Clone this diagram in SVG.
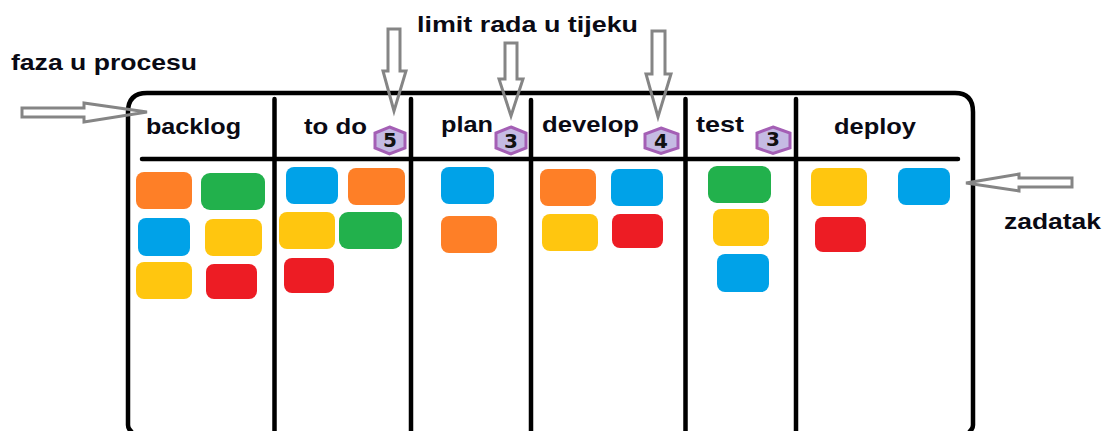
<svg xmlns="http://www.w3.org/2000/svg" width="1108" height="431" viewBox="0 0 1108 431">
<style>
.l{fill:none;stroke:#000;stroke-width:4.5;stroke-linecap:round}
.a{fill:#fff;fill-opacity:0;stroke:#858585;stroke-width:3;stroke-linejoin:miter}
.t{font-family:"Liberation Sans",Arial,sans-serif;font-weight:700;font-size:21.500px;fill:#0a0a14}
.h{fill:#c5bbe3;stroke:#a45fb5;stroke-width:3}
.n{font-family:"DejaVu Sans",sans-serif;font-weight:700;font-size:20px;fill:#111;text-anchor:middle}
.o{fill:#fe7f27}.g{fill:#22b14c}.b{fill:#00a2e8}.y{fill:#ffc60f}.r{fill:#ed1c24}
</style>
<rect width="1108" height="431" fill="#fff"/>
<g id="board">
<path class="l" d="M131 431Q128 429 128 425V112Q128 93 147 93H955Q973 93 973 112V425Q973 429 970 431"/>
<path class="l" d="M274.500 99V431M411 99V431M531 100V431M685.500 99V431M796 99V431M142 159H958"/>
</g>
<g id="connectors">
<path class="a" d="M22 108H84V103L147 112L84 122V117H22Z"/>
<path class="a" d="M388 29H400V71H406L394 111L383 71H388Z"/>
<path class="a" d="M505 43H517V79H523L511 116L499 79H505Z"/>
<path class="a" d="M652 31H665V74H671L658 117L646 74H652Z"/>
<path class="a" d="M1072 178H1019V174L966 183L1019 191V187H1072Z"/>
</g>
<g id="cards">
<rect class="o" x="136" y="172" width="56" height="37" rx="8"/><rect class="g" x="201" y="173" width="64" height="37" rx="9"/>
<rect class="b" x="138" y="218" width="52" height="38" rx="8"/><rect class="y" x="205" y="219" width="57" height="37" rx="8"/>
<rect class="y" x="136" y="262" width="56" height="37" rx="8"/><rect class="r" x="206" y="264" width="51" height="35" rx="8"/>
<rect class="b" x="286" y="167" width="52" height="37" rx="8"/><rect class="o" x="348" y="168" width="57" height="37" rx="8"/>
<rect class="y" x="279" y="212" width="56" height="37" rx="8"/><rect class="g" x="339" y="212" width="63" height="37" rx="9"/>
<rect class="r" x="284" y="258" width="50" height="35" rx="8"/>
<rect class="b" x="441" y="167" width="53" height="37" rx="8"/><rect class="o" x="441" y="216" width="56" height="37" rx="8"/>
<rect class="o" x="540" y="169" width="56" height="37" rx="8"/><rect class="b" x="611" y="169" width="52" height="37" rx="8"/>
<rect class="y" x="542" y="214" width="56" height="37" rx="8"/><rect class="r" x="612" y="214" width="51" height="34" rx="8"/>
<rect class="g" x="708" y="166" width="63" height="37" rx="9"/><rect class="y" x="713" y="209" width="56" height="37" rx="8"/>
<rect class="b" x="717" y="254" width="52" height="38" rx="8"/>
<rect class="y" x="811" y="168" width="56" height="38" rx="8"/><rect class="b" x="898" y="168" width="52" height="37" rx="8"/>
<rect class="r" x="815" y="217" width="51" height="35" rx="8"/>
</g>
<g id="limit-5"><polygon class="h" points="389.500,127 405,133 405,148 389.500,154 375,148 375,133"/><text class="n" x="390" y="147">5</text></g>
<g id="limit-3a"><polygon class="h" points="511,127 526,133 526,148 511,154 496,148 496,133"/><text class="n" x="511" y="148">3</text></g>
<g id="limit-4"><polygon class="h" points="661,128 678,134 678,148 661,153.500 645,148 645,134"/><text class="n" x="661" y="148">4</text></g>
<g id="limit-3b"><polygon class="h" points="773,127 790,133 790,148 773,153.500 757,148 757,133"/><text class="n" x="773" y="146">3</text></g>
<g id="labels">
<text class="t" x="11" y="70" textLength="186" lengthAdjust="spacingAndGlyphs">faza u procesu</text>
<text class="t" x="417" y="32" textLength="221" lengthAdjust="spacingAndGlyphs">limit rada u tijeku</text>
<text class="t" x="1004" y="229" textLength="97" lengthAdjust="spacingAndGlyphs">zadatak</text>
<text class="t" x="146" y="134" textLength="95" lengthAdjust="spacingAndGlyphs">backlog</text>
<text class="t" x="304" y="134" textLength="63" lengthAdjust="spacingAndGlyphs">to do</text>
<text class="t" x="441" y="132" textLength="52" lengthAdjust="spacingAndGlyphs">plan</text>
<text class="t" x="542" y="132" textLength="97" lengthAdjust="spacingAndGlyphs">develop</text>
<text class="t" x="696" y="132" textLength="48" lengthAdjust="spacingAndGlyphs">test</text>
<text class="t" x="834" y="134" textLength="82" lengthAdjust="spacingAndGlyphs">deploy</text>
</g>
</svg>
